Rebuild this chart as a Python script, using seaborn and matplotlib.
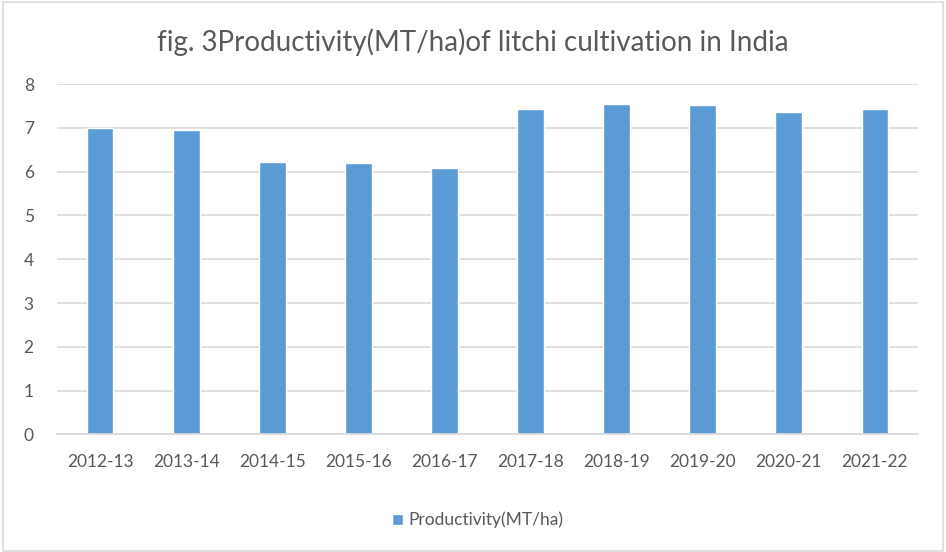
import matplotlib
matplotlib.use("Agg")
import matplotlib.pyplot as plt
import seaborn as sns
from matplotlib.patches import Rectangle

# Data
years = ["2012-13", "2013-14", "2014-15", "2015-16", "2016-17",
         "2017-18", "2018-19", "2019-20", "2020-21", "2021-22"]
productivity = [7.00, 6.95, 6.22, 6.20, 6.08, 7.43, 7.55, 7.52, 7.37, 7.43]
series_name = "Productivity(MT/ha)"

sns.set_theme(style="white")
plt.rcParams['font.family'] = ['Lato', 'DejaVu Sans']

text_color = "#595959"
grid_color = "#d9d9d9"
bar_color = "#5b9bd5"

fig = plt.figure(figsize=(9.46, 5.52), dpi=100)
ax = fig.add_axes([0.0603, 0.2129, 0.9100, 0.6349])

sns.barplot(x=years, y=productivity, color=bar_color, width=0.31,
            label=series_name, ax=ax, saturation=1)

ax.set_ylim(0, 8)
ax.set_yticks(range(0, 9))
ax.set_xlim(-0.5, len(years) - 0.5)
ax.yaxis.grid(True, color=grid_color, linewidth=1.2)
ax.set_axisbelow(True)
for side in ["left", "right", "top"]:
    ax.spines[side].set_visible(False)
ax.spines["bottom"].set_color(grid_color)
ax.spines["bottom"].set_linewidth(1.2)
ax.tick_params(axis="x", length=0, labelsize=12.5, labelcolor=text_color, pad=14)
ax.tick_params(axis="y", length=0, labelsize=12.5, labelcolor=text_color, pad=24)
for lbl in ax.get_yticklabels():
    lbl.set_horizontalalignment("left")
ax.set_xlabel("")
ax.set_ylabel("")

fig.text(0.5, 0.924, "fig. 3Productivity(MT/ha)of litchi cultivation in India",
         ha="center", va="center", fontsize=20, color=text_color)

ax.legend(loc="center", bbox_to_anchor=(0.505, 0.058),
          bbox_transform=fig.transFigure, frameon=False,
          fontsize=12.5, labelcolor=text_color, handlelength=0.6,
          handleheight=0.6, handletextpad=0.3)

# Light chart-area border
fig.patches.append(Rectangle((0.003, 0.002), 0.994, 0.994, transform=fig.transFigure,
                             fill=False, edgecolor=grid_color, linewidth=1.2))

fig.savefig("out.png", dpi=100)
